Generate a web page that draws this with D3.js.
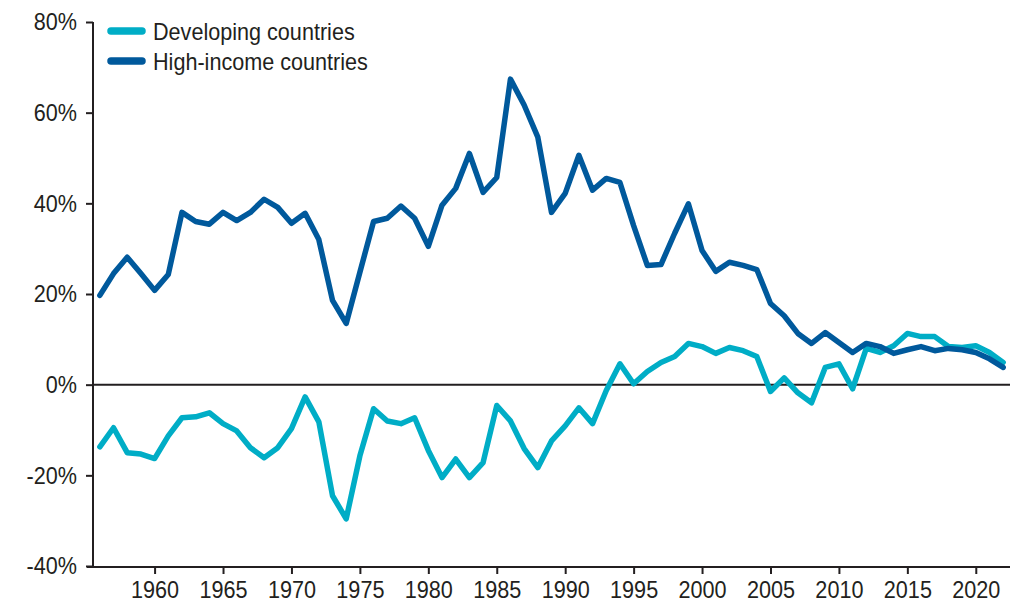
<!DOCTYPE html>
<html>
<head>
<meta charset="utf-8">
<script src="https://cdn.jsdelivr.net/npm/d3@7"></script>
<style>
    body { margin: 0; background: #fff; }
    svg text { font-family: "Liberation Sans Narrow", "Liberation Sans", sans-serif; fill: #231f20; }
</style>
</head>
<body>
<svg id="chart" width="1023" height="605"></svg>
<script>
    'use strict';

    var years = d3.range(1956, 2023);

    var developing = [
        -13.7, -9.5, -15, -15.3, -16.3, -11.3, -7.3, -7.1, -6.2, -8.6,
        -10.2, -13.9, -16.1, -13.9, -9.7, -2.7, -8.2, -24.5, -29.6, -15.7,
        -5.3, -8, -8.6, -7.3, -14.5, -20.5, -16.4, -20.5, -17.2, -4.6,
        -8, -14.1, -18.3, -12.4, -9.1, -5.1, -8.6, -1.3, 4.6, 0.2,
        2.9, 4.9, 6.2, 9.1, 8.4, 6.9, 8.2, 7.5, 6.2, -1.5,
        1.5, -1.8, -4, 3.8, 4.6, -0.9, 8, 7.1, 8.6, 11.3,
        10.6, 10.6, 8.4, 8.2, 8.6, 7.1, 4.9
    ];

    var highIncome = [
        19.7, 24.5, 28.1, 24.5, 20.8, 24.3, 38, 36, 35.4, 38,
        36.2, 38, 40.9, 39.1, 35.6, 37.8, 32, 18.6, 13.5, 24.8,
        36, 36.7, 39.4, 36.7, 30.5, 39.6, 43.3, 51, 42.4, 45.7,
        67.4, 61.7, 54.6, 38, 42.2, 50.6, 42.9, 45.5, 44.6, 35.1,
        26.3, 26.5, 33.4, 39.9, 29.6, 25, 27, 26.3, 25.4, 17.9,
        15.2, 11.3, 9.1, 11.5, 9.3, 7.1, 9.1, 8.4, 6.9, 7.7,
        8.4, 7.5, 8, 7.7, 7.1, 5.7, 3.8
    ];

    var yTicks = [-40, -20, 0, 20, 40, 60, 80];
    var xTicks = [1960, 1965, 1970, 1975, 1980, 1985, 1990, 1995, 2000, 2005, 2010, 2015, 2020];

    var seriesNames = ['Developing countries', 'High-income countries'];
    var seriesColors = ['#00adc6', '#00599c'];

    (function() {
        var svg = d3.select('#chart');

        var plotLeft = 93, plotRight = 1010, plotTop = 22, plotBottom = 566;

        var x = d3.scaleLinear().domain([1955.5, 2022.5]).range([plotLeft, plotRight]);
        var y = d3.scaleLinear().domain([-40, 80]).range([plotBottom, plotTop]);

        // y axis
        var yAxis = svg.append('g')
            .attr('transform', 'translate(' + plotLeft + ',0)')
            .call(d3.axisLeft(y).tickValues(yTicks).tickSize(7).tickPadding(9)
                .tickFormat(function(d) { return d + '%'; }));
        yAxis.select('.domain').attr('stroke', '#231f20').attr('stroke-width', 2)
            .attr('d', 'M0,' + plotTop + 'V' + (plotBottom + 1));
        yAxis.selectAll('.tick line').attr('stroke', '#231f20').attr('stroke-width', 2);
        yAxis.selectAll('.tick text').style('font-size', '24px');

        // x axis
        var xAxis = svg.append('g')
            .attr('transform', 'translate(0,' + (plotBottom + 1) + ')')
            .call(d3.axisBottom(x).tickValues(xTicks).tickSize(7).tickPadding(7)
                .tickFormat(d3.format('d')));
        xAxis.select('.domain').attr('stroke', '#231f20').attr('stroke-width', 2)
            .attr('d', 'M' + (plotLeft - 6) + ',0H' + plotRight);
        xAxis.selectAll('.tick line').attr('stroke', '#231f20').attr('stroke-width', 2);
        xAxis.selectAll('.tick text').style('font-size', '24px');

        // zero line
        svg.append('line')
            .attr('x1', plotLeft).attr('x2', plotRight)
            .attr('y1', y(0)).attr('y2', y(0))
            .attr('stroke', '#231f20').attr('stroke-width', 2);

        var line = d3.line()
            .x(function(d, i) { return x(years[i]); })
            .y(function(d) { return y(d); })
            .curve(d3.curveLinear);

        [developing, highIncome].forEach(function(values, i) {
            svg.append('path')
                .datum(values)
                .attr('d', line)
                .attr('fill', 'none')
                .attr('stroke', seriesColors[i])
                .attr('stroke-width', 5.5)
                .attr('stroke-linejoin', 'round')
                .attr('stroke-linecap', 'round');
        });

        // legend
        var legend = svg.append('g').attr('transform', 'translate(111,31)');
        seriesNames.forEach(function(name, i) {
            var row = legend.append('g').attr('transform', 'translate(0,' + (i * 30) + ')');
            row.append('line')
                .attr('x1', 0).attr('x2', 31)
                .attr('stroke', seriesColors[i])
                .attr('stroke-width', 7.5)
                .attr('stroke-linecap', 'round');
            row.append('text')
                .attr('x', 42).attr('y', 9)
                .style('font-size', '24px')
                .text(name);
        });

        //HINT: no condensed face installed, so squeeze the glyphs a bit
        svg.selectAll('text').each(function() {
            var w = this.getComputedTextLength();
            d3.select(this)
                .attr('textLength', (w * 0.9).toFixed(1))
                .attr('lengthAdjust', 'spacingAndGlyphs');
        });
    })();
</script>
</body>
</html>
